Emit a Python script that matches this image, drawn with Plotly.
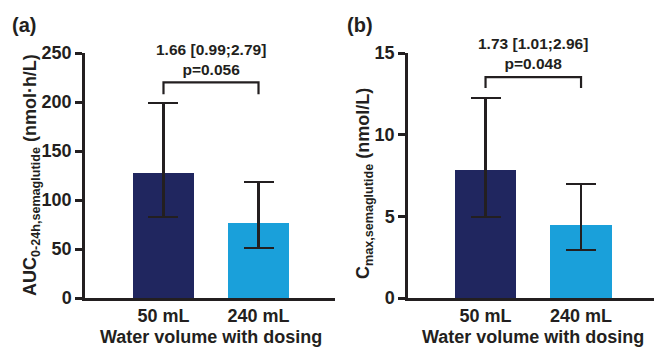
import plotly.graph_objects as go

categories = ["50 mL", "240 mL"]
auc_mean = [128, 77]
auc_upper = [199, 118]
auc_lower = [83, 51]
cmax_mean = [7.83, 4.5]
cmax_upper = [12.25, 6.98]
cmax_lower = [4.97, 2.93]
auc_ticks = [0, 50, 100, 150, 200, 250]
cmax_ticks = [0, 5, 10, 15]
colors = ["#20265f", "#1aa0da"]

W, H = 654, 349
INK = "#231f20"
FONT = "Liberation Sans, Arial, sans-serif"

def px(x):
    return x / W

def py(y):
    return (H - y) / H

fig = go.Figure()
xs = [0, 1]

fig.add_trace(go.Bar(
    x=xs, y=auc_mean, width=0.64, marker=dict(color=colors, line=dict(width=0)),
    error_y=dict(type="data", symmetric=False,
                 array=[u - m for u, m in zip(auc_upper, auc_mean)],
                 arrayminus=[m - l for m, l in zip(auc_mean, auc_lower)],
                 color=INK, thickness=2.2, width=15),
    xaxis="x", yaxis="y", showlegend=False))

fig.add_trace(go.Bar(
    x=xs, y=cmax_mean, width=0.64, marker=dict(color=colors, line=dict(width=0)),
    error_y=dict(type="data", symmetric=False,
                 array=[u - m for u, m in zip(cmax_upper, cmax_mean)],
                 arrayminus=[m - l for m, l in zip(cmax_mean, cmax_lower)],
                 color=INK, thickness=2.2, width=15),
    xaxis="x2", yaxis="y2", showlegend=False))

tickfont = dict(family=FONT, size=18, color=INK, weight="bold")
axcommon = dict(showline=True, linecolor=INK, linewidth=2.5, showgrid=False, zeroline=False,
                tickfont=tickfont, automargin=False)

yb, yt = py(298), py(53)
fig.update_layout(
    width=W, height=H, margin=dict(l=0, r=0, t=0, b=0, autoexpand=False),
    plot_bgcolor="white", paper_bgcolor="white", bargap=0,
    xaxis=dict(domain=[px(85), px(335)], range=[-0.826, 1.805], tickvals=xs, ticktext=categories,
               ticks="", ticklabelstandoff=0, anchor="y", **axcommon),
    yaxis=dict(domain=[yb, yt], range=[0, 250], tickvals=auc_ticks, ticks="outside", ticklen=7,
               tickwidth=2.5, tickcolor=INK, anchor="x", **axcommon),
    xaxis2=dict(domain=[px(408), 1.0], range=[-0.812, 1.764], tickvals=xs, ticktext=categories,
                ticks="", ticklabelstandoff=0, anchor="y2", **axcommon),
    yaxis2=dict(domain=[yb, yt], range=[0, 15], tickvals=cmax_ticks, ticks="outside", ticklen=7,
                tickwidth=2.5, tickcolor=INK, anchor="x2", **axcommon),
)

lw = dict(color=INK, width=2.2)
# comparison brackets
fig.add_shape(type="path", xref="x", yref="y", path="M 0 208 L 0 220 L 1 220 L 1 208", line=lw)
fig.add_shape(type="path", xref="x2", yref="y2", path="M 0 12.85 L 0 13.52 L 1 13.52 L 1 12.85", line=lw)

afont = dict(family=FONT, size=15.5, color=INK, weight="bold")
fig.add_annotation(x=0.5, xref="x", y=py(59), yref="paper", text="1.66 [0.99;2.79]<br>p=0.056",
                   showarrow=False, font=afont, xanchor="center", yanchor="middle")
fig.add_annotation(x=0.5, xref="x2", y=py(53.5), yref="paper", text="1.73 [1.01;2.96]<br>p=0.048",
                   showarrow=False, font=afont, xanchor="center", yanchor="middle")

lfont = dict(family=FONT, size=20, color=INK, weight="bold")
fig.add_annotation(x=px(10), y=py(25), xref="paper", yref="paper", text="(a)", showarrow=False,
                   font=lfont, xanchor="left", yanchor="middle")
fig.add_annotation(x=px(345), y=py(25), xref="paper", yref="paper", text="(b)", showarrow=False,
                   font=lfont, xanchor="left", yanchor="middle")

tfont = dict(family=FONT, size=18, color=INK, weight="bold")
fig.add_annotation(x=0.5, xref="x", y=py(337), yref="paper", text="Water volume with dosing",
                   showarrow=False, font=tfont, xanchor="center", yanchor="middle", borderpad=0)
fig.add_annotation(x=0.5, xref="x2", y=py(337), yref="paper", text="Water volume with dosing",
                   showarrow=False, font=tfont, xanchor="center", yanchor="middle", borderpad=0)

fig.add_annotation(x=px(31), y=py(175), xref="paper", yref="paper",
                   text="AUC<sub>0-24h,semaglutide</sub> (nmol·h/L)", textangle=-90,
                   showarrow=False, font=tfont, xanchor="center", yanchor="middle")
fig.add_annotation(x=px(364), y=py(184), xref="paper", yref="paper",
                   text="C<sub>max,semaglutide</sub> (nmol/L)", textangle=-90,
                   showarrow=False, font=tfont, xanchor="center", yanchor="middle")

fig.write_html("out.html")
